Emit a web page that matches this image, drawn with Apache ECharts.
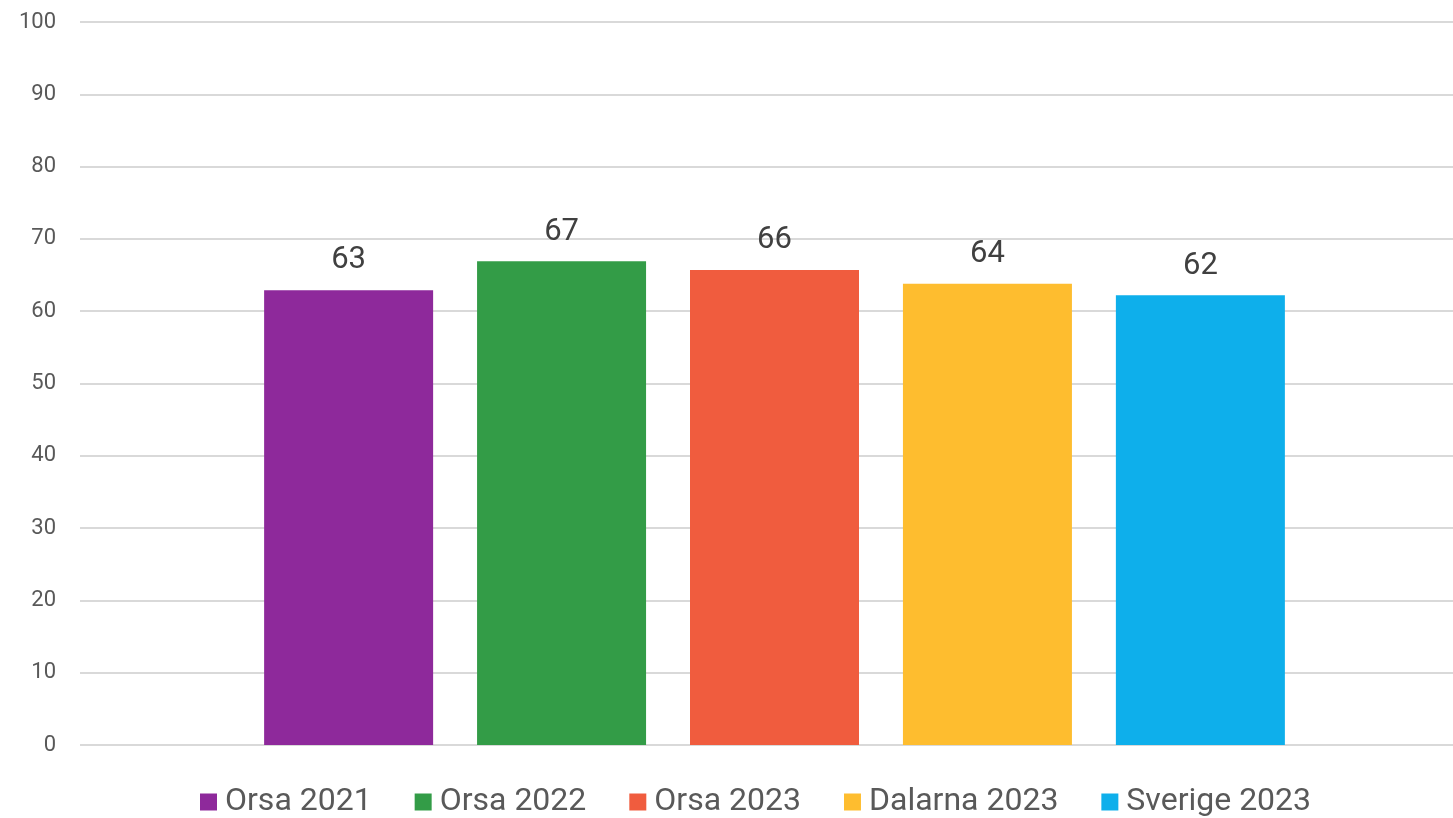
<!DOCTYPE html>
<html>
<head>
<meta charset="utf-8">
<script src="https://cdn.jsdelivr.net/npm/echarts@6/dist/echarts.min.js"></script>
<style>
  html, body { margin: 0; padding: 0; background: #fff; }
  #chart { width: 1453px; height: 818px; }
</style>
</head>
<body>
<div id="chart"></div>
<script>
const seriesNames = ["Orsa 2021", "Orsa 2022", "Orsa 2023", "Dalarna 2023", "Sverige 2023"];
const seriesValues = [62.9, 66.9, 65.7, 63.8, 62.2];
const seriesColors = ["#8e299b", "#339c47", "#f05c3e", "#febd2f", "#0eafeb"];
const yTicks = [0, 10, 20, 30, 40, 50, 60, 70, 80, 90, 100];

let myChart = echarts.init(document.getElementById("chart"));

let series = seriesNames.map((name, i) => ({
  name: name,
  type: "bar",
  data: [seriesValues[i]],
  barWidth: 169,
  barGap: "26%",
  itemStyle: { color: seriesColors[i] },
  label: {
    show: true,
    position: "top",
    distance: 14,
    fontFamily: "Roboto",
    fontSize: 31,
    color: "#404040",
    formatter: (p) => Math.round(p.value),
  },
}));

let option = {
  animation: false,
  textStyle: { fontFamily: "Roboto" },
  grid: {
    left: 80,
    right: -16,
    top: 22,
    bottom: 73,
    containLabel: false,
    outerBoundsMode: "none",
  },
  legend: {
    data: seriesNames,
    top: 781,
    left: 195,
    itemWidth: 17,
    itemHeight: 17,
    itemGap: 43,
    icon: "rect",
    textStyle: {
      color: "#595959",
      fontSize: 32,
      fontFamily: "Roboto",
      padding: [0, 0, 0, 3],
    },
  },
  xAxis: {
    type: "category",
    data: [""],
    axisLine: { show: false },
    axisTick: { show: false },
    axisLabel: { show: false },
  },
  yAxis: {
    type: "value",
    min: yTicks[0],
    max: yTicks[yTicks.length - 1],
    interval: 10,
    axisLine: { show: false },
    axisTick: { show: false },
    axisLabel: {
      color: "#595959",
      fontSize: 22,
      fontFamily: "Roboto",
      margin: 24,
    },
    splitLine: {
      lineStyle: { color: "#d9d9d9", width: 2 },
    },
  },
  series: series,
};
myChart.setOption(option);
</script>
</body>
</html>
